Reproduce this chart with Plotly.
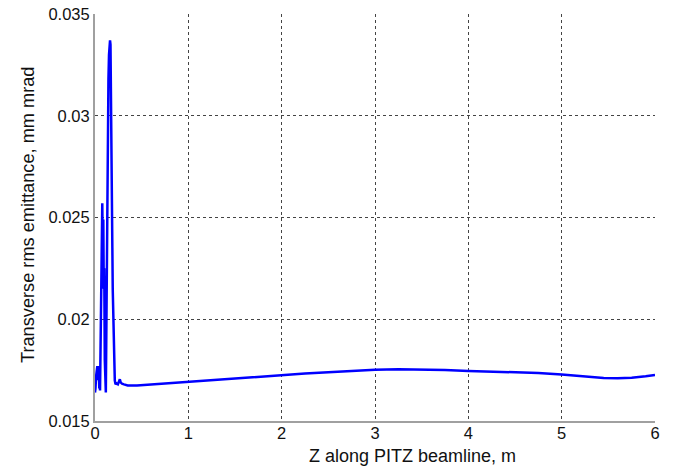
import plotly.graph_objects as go

z_m = [0.0, 0.005, 0.012, 0.02, 0.025, 0.03, 0.035, 0.04, 0.046, 0.05, 0.054,
       0.06, 0.066, 0.072, 0.078, 0.084, 0.089, 0.094, 0.099, 0.105, 0.110, 0.116,
       0.120, 0.126, 0.132, 0.138, 0.144, 0.150, 0.156, 0.161, 0.166, 0.170, 0.174,
       0.178, 0.182, 0.186, 0.190, 0.196, 0.200, 0.206, 0.212, 0.22, 0.23, 0.245,
       0.258, 0.266, 0.275, 0.29, 0.31, 0.35, 0.45, 0.6, 0.8, 1.0, 1.25, 1.5, 1.75,
       2.0, 2.25, 2.5, 2.75, 3.0, 3.25, 3.5, 3.75, 4.0, 4.25, 4.5, 4.75, 5.0, 5.15,
       5.3, 5.45, 5.6, 5.75, 5.9, 6.0]
emittance = [0.0164, 0.0166, 0.0172, 0.0176, 0.0177, 0.0170, 0.0177, 0.0176, 0.0166, 0.0170, 0.0165,
             0.0185, 0.0225, 0.0240, 0.0257, 0.0230, 0.0249, 0.0215, 0.0225, 0.0180, 0.0165, 0.0164,
             0.0185, 0.0230, 0.0275, 0.0300, 0.0318, 0.0330, 0.0334, 0.0337, 0.0335, 0.0320, 0.0300,
             0.0285, 0.0265, 0.0235, 0.0215, 0.0200, 0.0185, 0.0175, 0.0170, 0.0168, 0.01685, 0.0168,
             0.0170, 0.01705, 0.0169, 0.01683, 0.0168, 0.01675, 0.01675, 0.0168, 0.01687, 0.01693,
             0.01702, 0.0171, 0.01718, 0.01727, 0.01733, 0.01739, 0.01746, 0.01752, 0.01754, 0.01754,
             0.01751, 0.01746, 0.01743, 0.0174, 0.01736, 0.01729, 0.01722, 0.01716, 0.01711, 0.0171,
             0.01713, 0.0172, 0.01726]

x_ticks = [0, 1, 2, 3, 4, 5, 6]
y_ticks = [0.015, 0.02, 0.025, 0.03, 0.035]
y_tick_text = ["0.015", "0.02", "0.025", "0.03", "0.035"]

x_title = "Z along PITZ beamline, m"
y_title = "Transverse rms emittance, mm mrad"

W, H = 673, 468
L, R, T, B = 95, 18, 14, 47

fig = go.Figure()
fig.add_trace(go.Scatter(x=z_m, y=emittance, mode="lines",
                         line=dict(color="#0000ff", width=2.5), showlegend=False))

font_family = "Liberation Sans, Arial, sans-serif"
fig.update_layout(
    width=W, height=H,
    margin=dict(l=L, r=R, t=T, b=B, autoexpand=False),
    paper_bgcolor="white", plot_bgcolor="white",
    font=dict(family=font_family, color="#111111", size=16.5),
    xaxis=dict(range=[0, 6], tickvals=x_ticks, ticks="", showgrid=True, automargin=False,
               gridcolor="#444444", griddash="dot", gridwidth=1, ticklabelstandoff=-4,
               showline=True, linecolor="#a0a0a0", linewidth=2, zeroline=False,
               tickfont=dict(size=16.5)),
    yaxis=dict(range=[0.015, 0.035], tickvals=y_ticks, ticktext=y_tick_text, ticks="",
               showgrid=True, automargin=False,
               gridcolor="#444444", griddash="dot", gridwidth=1,
               showline=True, linecolor="#a0a0a0", linewidth=2, zeroline=False,
               tickfont=dict(size=16.5)),
    annotations=[
        dict(text=x_title, xref="paper", yref="paper",
             x=(412 - L) / (W - L - R), y=-(456 - (H - B)) / (H - T - B),
             xanchor="center", yanchor="middle", showarrow=False,
             font=dict(size=18, family=font_family, color="#111111")),
        dict(text=y_title, xref="paper", yref="paper", textangle=-90,
             x=-(L - 28) / (W - L - R), y=1 - (215 - T) / (H - T - B),
             xanchor="center", yanchor="middle", showarrow=False,
             font=dict(size=18.2, family=font_family, color="#111111")),
    ],
)

fig.write_html("out.html")
